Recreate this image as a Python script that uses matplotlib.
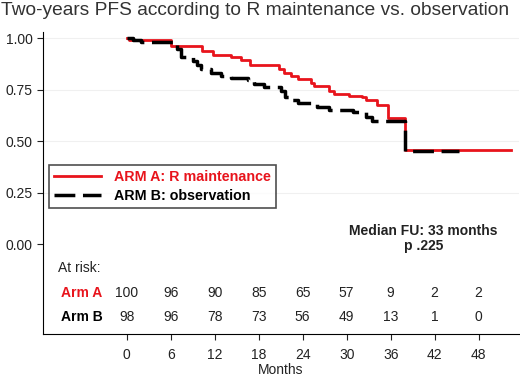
import matplotlib
matplotlib.use("Agg")
import matplotlib.pyplot as plt

plt.rcParams['font.family'] = ['Liberation Sans', 'DejaVu Sans']

# Kaplan-Meier steps
arm_a_t = [0, 0.3, 6.0, 10.2, 11.7, 14.2, 15.6, 16.8, 20.8, 21.4, 22.4, 23.3, 25.1, 25.6,
           27.6, 28.3, 30.3, 32.1, 32.6, 34.2, 35.6, 37.9, 52.4]
arm_a_s = [1.00, 0.99, 0.96, 0.94, 0.92, 0.91, 0.895, 0.87, 0.85, 0.83, 0.815, 0.80, 0.785, 0.77,
           0.745, 0.73, 0.72, 0.715, 0.70, 0.675, 0.615, 0.46, 0.46]
arm_b_t = [0, 0.8, 2.0, 6.8, 7.4, 9.0, 9.6, 10.1, 11.5, 12.8, 14.2, 16.5, 17.3, 18.7, 21.0,
           21.6, 22.1, 23.3, 26.0, 27.6, 30.8, 32.7, 33.4, 38.0, 45.3]
arm_b_s = [1.00, 0.99, 0.98, 0.95, 0.91, 0.89, 0.87, 0.85, 0.83, 0.815, 0.805, 0.795, 0.78, 0.765, 0.745,
           0.715, 0.70, 0.685, 0.665, 0.65, 0.64, 0.62, 0.60, 0.455, 0.455]

risk_times = [0, 6, 12, 18, 24, 30, 36, 42, 48]
risk_a = [100, 96, 90, 85, 65, 57, 9, 2, 2]
risk_b = [98, 96, 78, 73, 56, 49, 13, 1, 0]

red = "#e8141c"

fig = plt.figure(figsize=(5.2, 3.77), dpi=100)
ax = fig.add_axes([0.083, 0.114, 0.915, 0.801])

for yv in [0.25, 0.5, 0.75, 1.0]:
    ax.axhline(yv, color="#f0f0f0", lw=0.8, zorder=0)

ax.step(arm_a_t, arm_a_s, where="post", color=red, lw=2, label="ARM A: R maintenance")
ax.step(arm_b_t, arm_b_s, where="post", color="black", lw=2.5, dashes=(6, 2.2),
        label="ARM B: observation")

ax.set_xlim(-11.4, 53.5)
ax.set_ylim(-0.435, 1.03)
ax.set_xticks(risk_times)
ax.set_yticks([0, 0.25, 0.5, 0.75, 1.0])
ax.set_yticklabels(["0.00", "0.25", "0.50", "0.75", "1.00"])
ax.tick_params(labelsize=10, colors="#222222", length=4)
ax.tick_params(axis="x", pad=6)
ax.spines["top"].set_visible(False)
ax.spines["right"].set_visible(False)
ax.set_xlabel("Months", fontsize=10, color="#222222", labelpad=0.5)

leg = ax.legend(loc="upper left", bbox_to_anchor=(0.0, 0.0, 1, 0.578), frameon=True,
                fancybox=False, edgecolor="#222222", handlelength=3.3, handletextpad=0.9,
                prop={"weight": "bold", "size": 10.3}, borderpad=0.35, labelspacing=0.35,
                borderaxespad=0.4)
leg.get_frame().set_linewidth(1.2)
for txt, c in zip(leg.get_texts(), [red, "black"]):
    txt.set_color(c)

ax.text(40.5, 0.03, "Median FU: 33 months\np .225", ha="center", va="center",
        fontsize=10, fontweight="bold", color="#222222", linespacing=1.1)

ax.text(-9.4, -0.117, "At risk:", fontsize=10, color="#222222", va="center")
ax.text(-9.0, -0.238, "Arm A", fontsize=10, fontweight="bold", color=red, va="center")
ax.text(-9.0, -0.354, "Arm B", fontsize=10, fontweight="bold", color="black", va="center")
for t, a, b in zip(risk_times, risk_a, risk_b):
    ax.text(t, -0.238, str(a), fontsize=10, ha="center", va="center", color="#222222")
    ax.text(t, -0.354, str(b), fontsize=10, ha="center", va="center", color="#222222")

fig.text(0.002, 0.995, "Two-years PFS according to R maintenance vs. observation",
         fontsize=13.8, color="#333333", ha="left", va="top")

fig.savefig("out.png", dpi=100)
